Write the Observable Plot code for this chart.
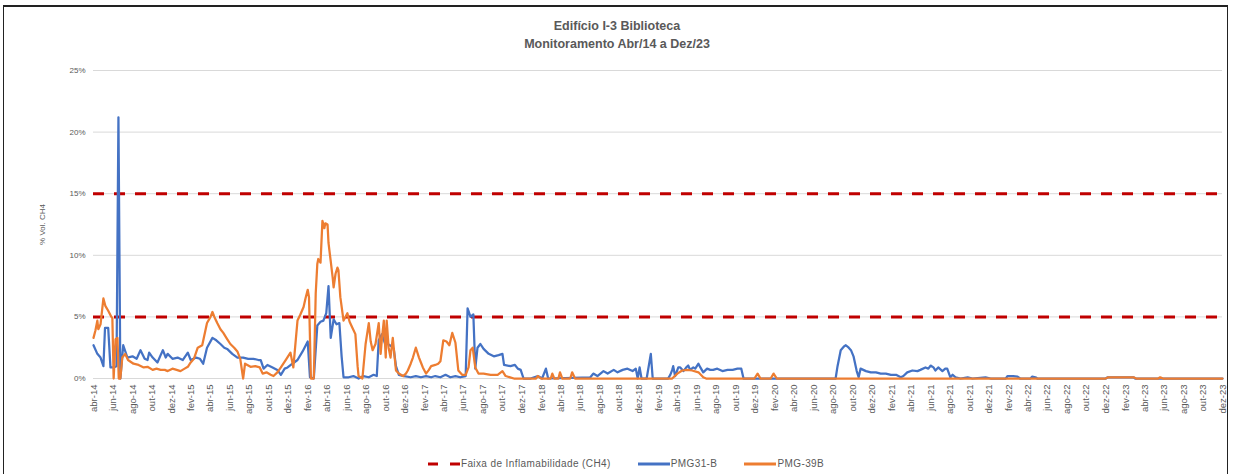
<!DOCTYPE html>
<html><head><meta charset="utf-8">
<script src="https://cdn.jsdelivr.net/npm/d3@7"></script>
<script src="https://cdn.jsdelivr.net/npm/@observablehq/plot@0.6"></script>
<style>
body{margin:0;background:#fff;font-family:"Liberation Sans",Arial,sans-serif;}
#wrap{position:relative;width:1234px;height:474px;overflow:hidden;background:#fff;}
#frame{position:absolute;left:3px;top:5px;width:1225px;height:500px;border:1px solid #222;border-top:2px solid #222;box-sizing:border-box;}
#title{position:absolute;top:17px;left:0;width:1234px;text-align:center;color:#595959;font-family:"Liberation Sans",Arial,sans-serif;font-weight:bold;font-size:12.5px;line-height:18px;}
#chart{position:absolute;top:0;left:0;}
#legend{position:absolute;top:458px;left:9px;width:1234px;display:flex;justify-content:center;align-items:center;gap:27px;font-size:10px;letter-spacing:0.4px;color:#595959;}
#legend .item{display:flex;align-items:center;gap:1px;}
</style></head>
<body>
<div id="wrap">
  <div id="frame"></div>
  <div id="title">Edifício I-3 Biblioteca<br>Monitoramento Abr/14 a Dez/23</div>
  <div id="chart"></div>
  <div id="legend"></div>
</div>
<script>
const monthNames = ["jan","fev","mar","abr","mai","jun","jul","ago","set","out","nov","dez"];
const yTicks = [0, 5, 10, 15, 20, 25];
const flammabilityLimits = [5, 15];
const seriesNames = ["Faixa de Inflamabilidade (CH4)", "PMG31-B", "PMG-39B"];
const seriesColors = ["#c00000", "#4472c4", "#ed7d31"];

const blueDates = ["2014-04-01","2014-04-13","2014-04-23","2014-05-02","2014-05-07","2014-05-17","2014-05-24","2014-06-03","2014-06-12","2014-06-18","2014-06-24","2014-07-03","2014-07-16","2014-08-01","2014-08-14","2014-08-26","2014-09-08","2014-09-17","2014-09-22","2014-10-03","2014-10-18","2014-10-28","2014-11-04","2014-11-13","2014-11-19","2014-12-04","2014-12-20","2015-01-05","2015-01-21","2015-01-30","2015-02-16","2015-02-28","2015-03-10","2015-03-22","2015-04-08","2015-04-20","2015-05-03","2015-05-15","2015-05-24","2015-06-09","2015-06-25","2015-07-13","2015-07-29","2015-08-14","2015-08-30","2015-09-06","2015-09-15","2015-09-27","2015-10-13","2015-10-28","2015-11-08","2015-11-20","2015-11-29","2015-12-14","2015-12-30","2016-01-15","2016-01-31","2016-02-07","2016-02-19","2016-03-01","2016-03-11","2016-03-20","2016-03-29","2016-04-05","2016-04-12","2016-04-21","2016-04-30","2016-05-09","2016-05-16","2016-05-22","2016-06-07","2016-06-22","2016-07-08","2016-07-23","2016-08-09","2016-08-24","2016-09-03","2016-09-09","2016-09-19","2016-09-28","2016-10-07","2016-10-20","2016-10-26","2016-11-02","2016-11-11","2016-11-27","2016-12-18","2017-01-03","2017-01-19","2017-02-04","2017-02-20","2017-03-05","2017-03-21","2017-04-06","2017-04-21","2017-05-07","2017-05-22","2017-06-08","2017-06-14","2017-06-23","2017-07-02","2017-07-08","2017-07-15","2017-07-24","2017-08-03","2017-08-19","2017-09-04","2017-09-19","2017-10-01","2017-10-06","2017-10-26","2017-11-09","2017-11-18","2017-11-27","2017-12-06","2017-12-28","2018-01-20","2018-02-02","2018-02-14","2018-02-21","2018-07-03","2018-07-12","2018-07-25","2018-08-13","2018-08-26","2018-09-14","2018-09-26","2018-10-12","2018-10-27","2018-11-12","2018-11-22","2018-11-28","2018-12-04","2018-12-10","2018-12-26","2019-01-08","2019-01-14","2019-03-03","2019-03-10","2019-03-16","2019-03-19","2019-03-25","2019-04-04","2019-04-10","2019-04-20","2019-04-29","2019-05-05","2019-05-11","2019-05-21","2019-05-27","2019-06-06","2019-06-12","2019-06-21","2019-07-03","2019-07-13","2019-07-22","2019-08-04","2019-08-20","2019-09-05","2019-09-21","2019-10-06","2019-10-18","2019-10-25","2020-08-08","2020-08-14","2020-08-24","2020-09-03","2020-09-09","2020-09-18","2020-09-25","2020-10-03","2020-10-13","2020-10-19","2020-10-25","2020-11-11","2020-11-26","2020-12-12","2020-12-27","2021-01-12","2021-01-28","2021-02-13","2021-02-28","2021-03-08","2021-03-20","2021-04-05","2021-04-21","2021-04-30","2021-05-16","2021-05-25","2021-06-01","2021-06-10","2021-06-16","2021-06-25","2021-07-08","2021-07-17","2021-07-23","2021-08-02","2021-08-09","2021-08-18","2021-09-03","2021-09-25","2021-10-10","2021-11-20","2021-12-06","2022-01-22","2022-01-28","2022-02-14","2022-02-28","2022-03-08","2022-04-09","2022-04-15","2022-04-25","2022-05-01","2022-12-01","2022-12-07","2023-02-26","2023-03-03","2023-12-01"];
const blueValues = [2.7,2.0,1.7,1.0,4.1,4.1,0.9,0.9,1.0,21.2,0.0,2.7,1.7,1.8,1.6,2.3,1.6,1.5,2.1,1.7,1.3,1.9,2.3,1.7,2.0,1.6,1.7,1.5,2.1,1.5,1.7,1.6,1.2,2.5,3.3,3.1,2.8,2.5,2.4,2.0,1.7,1.7,1.6,1.6,1.5,1.5,0.8,1.1,0.9,0.7,0.3,0.8,0.9,1.2,1.5,2.2,3.0,0.1,0.0,4.3,4.6,4.7,5.3,7.5,3.3,4.8,4.4,4.5,1.8,0.1,0.1,0.2,0.0,0.2,0.1,0.3,0.2,3.1,3.6,2.9,2.8,2.6,2.4,1.0,0.3,0.2,0.1,0.2,0.1,0.2,0.1,0.2,0.1,0.3,0.1,0.2,0.1,0.2,5.7,5.0,5.2,0.8,2.5,2.8,2.4,2.0,1.8,1.9,2.0,1.1,1.0,1.1,0.8,0.7,0.0,0.0,0.2,0.0,0.8,0.0,0.1,0.4,0.2,0.6,0.4,0.7,0.5,0.7,0.8,0.6,0.8,0.0,0.9,0.0,0.0,2.0,0.0,0.0,0.3,0.7,1.0,0.2,0.9,0.9,0.6,0.9,1.05,0.7,0.9,0.8,1.2,0.9,0.5,0.8,0.7,0.7,0.8,0.6,0.7,0.7,0.8,0.8,0.0,0.0,1.0,2.3,2.6,2.7,2.5,2.3,1.8,0.6,0.1,0.8,0.6,0.5,0.5,0.4,0.4,0.3,0.3,0.1,0.2,0.5,0.65,0.6,0.7,0.9,0.8,1.05,0.9,0.65,0.9,0.6,0.8,0.8,0.1,0.3,0.1,0.0,0.1,0.0,0.1,0.0,0.0,0.2,0.2,0.15,0.0,0.0,0.15,0.1,0.0,0.0,0.1,0.1,0.0,0.0];

const orangeDates = ["2014-04-01","2014-04-07","2014-04-13","2014-04-16","2014-04-23","2014-05-02","2014-05-08","2014-05-17","2014-05-27","2014-05-30","2014-06-03","2014-06-09","2014-06-15","2014-06-19","2014-06-24","2014-06-30","2014-07-09","2014-07-18","2014-08-04","2014-08-20","2014-09-05","2014-09-17","2014-10-03","2014-10-15","2014-10-28","2014-11-10","2014-11-19","2014-12-04","2014-12-17","2014-12-29","2015-01-11","2015-01-21","2015-01-30","2015-02-09","2015-02-21","2015-03-07","2015-03-22","2015-04-02","2015-04-08","2015-04-14","2015-04-23","2015-05-03","2015-05-12","2015-05-24","2015-06-03","2015-06-15","2015-06-25","2015-07-04","2015-07-13","2015-07-19","2015-08-05","2015-08-20","2015-09-03","2015-09-12","2015-09-24","2015-10-07","2015-10-16","2015-10-28","2015-11-08","2015-11-23","2015-12-08","2015-12-17","2015-12-30","2016-01-08","2016-01-18","2016-01-24","2016-01-31","2016-02-04","2016-02-10","2016-02-19","2016-02-25","2016-03-01","2016-03-04","2016-03-11","2016-03-17","2016-03-23","2016-03-26","2016-04-02","2016-04-05","2016-04-12","2016-04-18","2016-04-21","2016-04-27","2016-05-03","2016-05-06","2016-05-12","2016-05-22","2016-05-28","2016-06-03","2016-06-10","2016-06-19","2016-06-28","2016-07-05","2016-07-08","2016-07-20","2016-07-30","2016-08-09","2016-08-15","2016-08-21","2016-08-30","2016-09-09","2016-09-15","2016-09-19","2016-09-25","2016-10-01","2016-10-04","2016-10-10","2016-10-16","2016-10-23","2016-11-02","2016-11-11","2016-11-24","2016-12-03","2016-12-09","2016-12-18","2016-12-25","2017-01-03","2017-01-13","2017-01-19","2017-01-25","2017-02-04","2017-02-13","2017-02-20","2017-03-05","2017-03-14","2017-03-21","2017-03-30","2017-04-09","2017-04-18","2017-04-27","2017-05-07","2017-05-16","2017-05-28","2017-06-08","2017-06-17","2017-06-23","2017-06-30","2017-07-08","2017-07-18","2017-08-03","2017-08-25","2017-09-16","2017-10-01","2017-10-11","2017-11-06","2018-01-14","2018-01-20","2018-01-29","2018-03-01","2018-03-06","2018-03-12","2018-03-25","2018-03-30","2018-04-06","2018-05-01","2018-05-07","2018-05-16","2019-03-16","2019-04-01","2019-04-16","2019-05-02","2019-05-17","2019-06-06","2019-06-21","2019-06-30","2019-11-28","2019-12-08","2019-12-17","2020-01-18","2020-01-27","2020-02-06","2022-11-30","2022-12-09","2023-02-26","2023-03-06","2023-05-14","2023-05-20","2023-05-29","2023-12-01"];
const orangeValues = [3.3,3.9,4.7,4.0,4.4,6.5,5.9,5.5,5.0,4.9,0.0,3.2,3.3,0.0,0.0,1.7,2.0,1.5,1.2,1.1,0.9,0.95,0.7,0.8,0.7,0.7,0.6,0.8,0.7,0.6,0.8,0.95,1.3,1.6,2.5,2.7,4.5,5.0,5.4,5.0,4.5,4.0,3.7,3.2,2.8,2.5,2.2,1.6,0.0,1.2,0.95,1.0,0.9,0.4,0.5,0.3,0.2,0.5,0.9,1.5,2.1,0.9,4.7,5.2,5.8,6.5,7.2,6.6,0.0,0.0,6.9,9.3,9.7,9.4,12.8,12.2,12.6,12.5,11.0,9.5,8.2,7.4,8.5,9.0,8.8,6.6,4.7,5.0,5.3,4.6,4.1,3.6,1.0,0.2,0.0,2.8,4.5,3.0,2.3,2.8,4.5,2.0,3.2,4.7,1.7,4.7,2.5,1.7,3.3,0.65,0.4,0.2,0.4,0.65,1.2,1.7,2.5,1.7,1.3,0.9,0.4,0.7,1.0,1.1,1.2,1.4,3.1,3.0,2.7,3.7,2.9,0.65,0.3,0.3,0.9,2.3,2.5,0.9,0.4,0.4,0.3,0.3,0.6,0.2,0.0,0.0,0.2,0.0,0.0,0.4,0.0,0.0,0.5,0.0,0.0,0.5,0.0,0.0,0.4,0.65,0.7,0.65,0.5,0.1,0.0,0.0,0.4,0.0,0.0,0.4,0.0,0.0,0.1,0.1,0.0,0.0,0.1,0.0,0.0];

const xStart = new Date("2014-04-01");
const xEnd = new Date("2023-12-01");

const blue = blueDates.map((d, i) => ({date: new Date(d), value: blueValues[i]}));
const orange = orangeDates.map((d, i) => ({date: new Date(d), value: orangeValues[i]}));
const xTicks = d3.utcMonth.range(xStart, new Date("2023-12-02"), 2);

const chart = Plot.plot({
  width: 1234,
  height: 440,
  marginTop: 70,
  marginBottom: 62,
  marginLeft: 93,
  marginRight: 12,
  style: {fontFamily: "'Liberation Sans', Arial, sans-serif", fontSize: "8px", color: "#595959", background: "transparent", overflow: "visible"},
  x: {type: "utc", domain: [xStart, xEnd]},
  y: {domain: [0, 25]},
  marks: [
    Plot.ruleY(yTicks, {stroke: "#d9d9d9", strokeWidth: 1}),
    Plot.axisY({ticks: yTicks, tickFormat: d => d + "%", tickSize: 0, tickPadding: 8, fill: "#595959", fontSize: 8,
      label: "% Vol. CH4", labelAnchor: "center", labelOffset: 54, labelArrow: false}),
    Plot.axisX({ticks: xTicks, tickFormat: d => monthNames[d.getUTCMonth()] + "-" + String(d.getUTCFullYear()).slice(2),
      tickRotate: -90, tickSize: 0, tickPadding: 6, fill: "#595959", fontSize: 9.5, label: null}),
    Plot.ruleY(flammabilityLimits, {stroke: seriesColors[0], strokeWidth: 3, strokeDasharray: "11,10"}),
    Plot.line(blue, {x: "date", y: "value", stroke: seriesColors[1], strokeWidth: 2.25, strokeLinejoin: "round"}),
    Plot.line(orange, {x: "date", y: "value", stroke: seriesColors[2], strokeWidth: 2.25, strokeLinejoin: "round"})
  ]
});
document.getElementById("chart").appendChild(chart);

const legend = document.getElementById("legend");
seriesNames.forEach((name, i) => {
  const item = document.createElement("div");
  item.className = "item";
  const dash = i === 0 ? 'stroke-dasharray="10,12"' : "";
  item.innerHTML = `<svg width="32" height="6"><line x1="0" y1="3" x2="32" y2="3" stroke="${seriesColors[i]}" stroke-width="3" ${dash}/></svg><span>${name}</span>`;
  legend.appendChild(item);
});
</script>
</body></html>
